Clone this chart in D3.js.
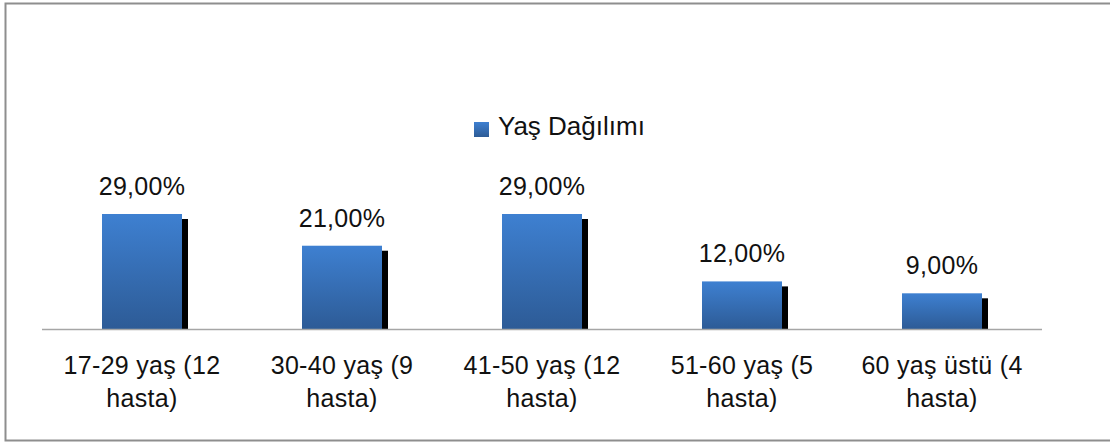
<!DOCTYPE html>
<html>
<head>
<meta charset="utf-8">
<script src="https://cdn.jsdelivr.net/npm/d3@7"></script>
<style>
  html, body { margin: 0; padding: 0; background: #fff; }
  svg text { font-family: "Liberation Sans", Arial, sans-serif; fill: #111; }
</style>
</head>
<body>
<div id="chart"></div>
<script>
// chart data
const categories = ["17-29 yaş (12 hasta)", "30-40 yaş (9 hasta)", "41-50 yaş (12 hasta)", "51-60 yaş (5 hasta)", "60 yaş üstü (4 hasta)"];
const labelLines = [["17-29 yaş (12", "hasta)"], ["30-40 yaş (9", "hasta)"], ["41-50 yaş (12", "hasta)"], ["51-60 yaş (5", "hasta)"], ["60 yaş üstü (4", "hasta)"]];
const values = [29, 21, 29, 12, 9];
const seriesName = "Yaş Dağılımı";

const width = 1110, height = 442;

const svg = d3.select("#chart").append("svg")
  .attr("width", width)
  .attr("height", height);

// blue gradient of the bars
const grad = svg.append("defs").append("linearGradient")
  .attr("id", "barGrad")
  .attr("x1", 0).attr("y1", 0).attr("x2", 0).attr("y2", 1);
grad.append("stop").attr("offset", "0%").attr("stop-color", "#3e80d1");
grad.append("stop").attr("offset", "100%").attr("stop-color", "#2d5b96");

// outer frame (runs off the right edge)
svg.append("rect")
  .attr("x", 5.5).attr("y", 3.5)
  .attr("width", 1120).attr("height", 437)
  .attr("fill", "none")
  .attr("stroke", "#8e8e8e")
  .attr("stroke-width", 2);

const x = d3.scaleBand()
  .domain(categories)
  .range([42, 1042])
  .paddingInner(0.6)
  .paddingOuter(0.3);

const y = d3.scaleLinear()
  .domain([0, 29])
  .range([329, 214]);

const shadowDx = 6, shadowDy = 5;

// shadows behind the bars
svg.append("g").selectAll("rect")
  .data(values)
  .enter().append("rect")
  .attr("x", (d, i) => x(categories[i]) + shadowDx)
  .attr("y", d => y(d) + shadowDy)
  .attr("width", x.bandwidth())
  .attr("height", d => y(0) - y(d) - shadowDy)
  .attr("fill", "#000");

// bars
svg.append("g").selectAll("rect")
  .data(values)
  .enter().append("rect")
  .attr("x", (d, i) => x(categories[i]))
  .attr("y", d => y(d))
  .attr("width", x.bandwidth())
  .attr("height", d => y(0) - y(d))
  .attr("fill", "url(#barGrad)");

// axis line
svg.append("line")
  .attr("x1", 42).attr("x2", 1042)
  .attr("y1", y(0) + 0.5).attr("y2", y(0) + 0.5)
  .attr("stroke", "#a6a6a6")
  .attr("stroke-width", 1.5);

// value labels
svg.append("g").selectAll("text")
  .data(values)
  .enter().append("text")
  .attr("x", (d, i) => x(categories[i]) + x.bandwidth() / 2)
  .attr("y", d => y(d) - 19)
  .attr("text-anchor", "middle")
  .attr("font-size", 25)
  .attr("letter-spacing", 0.3)
  .text(d => d.toFixed(2).replace(".", ",") + "%");

// category labels, two lines each
const catG = svg.append("g").selectAll("text")
  .data(categories)
  .enter().append("text")
  .attr("text-anchor", "middle")
  .attr("font-size", 25)
  .attr("letter-spacing", 0.3);
catG.each(function (d, i) {
  const cx = x(d) + x.bandwidth() / 2;
  labelLines[i].forEach((line, j) => {
    d3.select(this).append("tspan")
      .attr("x", cx)
      .attr("y", 374 + j * 33)
      .text(line);
  });
});

// legend
const legend = svg.append("g").attr("transform", "translate(474,122)");
legend.append("rect")
  .attr("width", 15).attr("height", 15)
  .attr("fill", "url(#barGrad)");
legend.append("text")
  .attr("x", 24).attr("y", 13)
  .attr("font-size", 26)
  .text(seriesName);
</script>
</body>
</html>
